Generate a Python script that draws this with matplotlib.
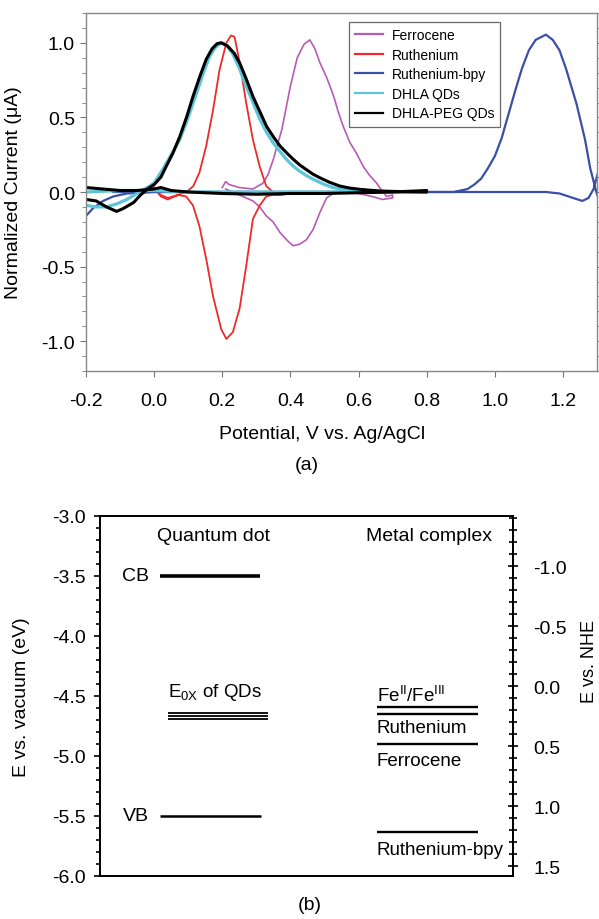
import matplotlib
matplotlib.use("Agg")
import matplotlib.pyplot as plt
from matplotlib.ticker import MultipleLocator, FormatStrFormatter

plt.rcParams['font.family'] = ['Liberation Sans', 'DejaVu Sans']
plt.rcParams['axes.unicode_minus'] = False
plt.rcParams['mathtext.fontset'] = 'custom'
plt.rcParams['mathtext.rm'] = 'Liberation Sans'

# ---- (a) voltammograms: potential (V vs Ag/AgCl), normalized current ----
ferrocene_v = [0.20, 0.21, 0.22, 0.25, 0.29, 0.32, 0.335, 0.35, 0.375, 0.40, 0.42, 0.44,
               0.457, 0.472, 0.486, 0.506, 0.521, 0.53, 0.54, 0.555, 0.575, 0.594, 0.614,
               0.633, 0.653, 0.668, 0.682, 0.70,
               0.70, 0.67, 0.64, 0.60, 0.56, 0.525, 0.506, 0.486, 0.467, 0.447, 0.427,
               0.408, 0.393, 0.369, 0.349, 0.329, 0.31, 0.29, 0.27, 0.24, 0.21]
ferrocene_i = [0.03, 0.07, 0.05, 0.03, 0.02, 0.06, 0.12, 0.22, 0.42, 0.71, 0.90, 0.99,
               1.02, 0.96, 0.87, 0.77, 0.68, 0.62, 0.54, 0.44, 0.33, 0.26, 0.17,
               0.11, 0.06, 0.01, -0.03, -0.02,
               -0.04, -0.05, -0.03, -0.01, 0.0, -0.01, -0.04, -0.14, -0.25, -0.32, -0.35,
               -0.36, -0.33, -0.27, -0.20, -0.16, -0.10, -0.06, -0.04, -0.01, 0.02]

ruthenium_v = [0.0, 0.02, 0.04, 0.06, 0.08, 0.10, 0.115, 0.133, 0.153, 0.173, 0.192, 0.212,
               0.226, 0.236, 0.251, 0.27, 0.29, 0.31, 0.329, 0.349, 0.369, 0.40,
               0.37, 0.345, 0.329, 0.31, 0.29, 0.27, 0.251, 0.231, 0.212, 0.197, 0.173,
               0.153, 0.133, 0.114, 0.094, 0.07, 0.04, 0.02, 0.0]
ruthenium_i = [0.03, -0.03, -0.05, -0.03, -0.01, 0.01, 0.04, 0.13, 0.31, 0.55, 0.82, 1.0,
               1.05, 1.04, 0.87, 0.60, 0.35, 0.17, 0.04, 0.0, -0.015, -0.01,
               -0.02, -0.02, -0.03, -0.09, -0.18, -0.50, -0.78, -0.94, -0.985, -0.92, -0.70,
               -0.45, -0.23, -0.09, -0.03, -0.02, -0.04, -0.02, 0.02]

ru_bpy_v = [-0.20, -0.18, -0.15, -0.12, -0.08, 0.0, 0.2, 0.4, 0.6, 0.8, 0.88, 0.92, 0.94,
            0.96, 0.98, 1.0, 1.02, 1.04, 1.06, 1.08, 1.10, 1.12, 1.15, 1.17, 1.19, 1.21,
            1.24, 1.265, 1.28, 1.298, 1.31,
            1.31, 1.303, 1.29, 1.275, 1.257, 1.23, 1.19, 1.15, 1.0, 0.8, 0.5, 0.2, 0.0, -0.12]
ru_bpy_i = [-0.16, -0.11, -0.06, -0.03, -0.01, 0.0, 0.0, 0.0, 0.0, 0.0, 0.0, 0.02, 0.05,
            0.09, 0.16, 0.24, 0.36, 0.52, 0.68, 0.83, 0.95, 1.02, 1.055, 1.02, 0.95, 0.82,
            0.59, 0.35, 0.16, 0.0, -0.08,
            0.25, 0.13, 0.02, -0.04, -0.06, -0.04, -0.01, 0.0, 0.0, 0.0, 0.0, 0.0, 0.0, 0.0]

dhla_v = [-0.20, -0.17, -0.14, -0.11, -0.08, -0.05, -0.02, 0.0, 0.025, 0.05, 0.075, 0.10,
          0.124, 0.145, 0.163, 0.18, 0.197, 0.21, 0.23, 0.25, 0.27, 0.29, 0.31, 0.33,
          0.349, 0.37, 0.388, 0.41, 0.427, 0.447, 0.467, 0.50, 0.525, 0.55, 0.584, 0.65,
          0.70, 0.75, 0.80,
          0.80, 0.60, 0.40, 0.20, 0.10, 0.0, -0.10, -0.20]
dhla_i = [-0.09, -0.10, -0.10, -0.08, -0.05, -0.01, 0.03, 0.06, 0.15, 0.25, 0.35, 0.50,
          0.66, 0.80, 0.91, 0.97, 1.0, 0.99, 0.93, 0.83, 0.71, 0.60, 0.49, 0.40,
          0.33, 0.27, 0.22, 0.17, 0.14, 0.11, 0.085, 0.05, 0.03, 0.02, 0.007, 0.0,
          0.0, 0.0, 0.0,
          0.0, 0.0, 0.0, 0.0, 0.0, 0.01, 0.01, 0.0]

peg_v = [-0.20, -0.17, -0.14, -0.11, -0.09, -0.06, -0.04, -0.02, 0.0, 0.02, 0.035, 0.055,
         0.075, 0.095, 0.114, 0.135, 0.153, 0.17, 0.185, 0.197, 0.215, 0.235, 0.251, 0.27,
         0.29, 0.31, 0.33, 0.35, 0.369, 0.39, 0.408, 0.428, 0.447, 0.466, 0.486, 0.515,
         0.545, 0.575, 0.604, 0.633, 0.663, 0.70, 0.75, 0.80,
         0.80, 0.70, 0.60, 0.50, 0.40, 0.30, 0.20, 0.10, 0.05, 0.02, 0.0, -0.05, -0.10,
         -0.15, -0.20]
peg_i = [-0.05, -0.06, -0.10, -0.13, -0.11, -0.07, -0.02, 0.02, 0.05, 0.10, 0.17, 0.26,
         0.37, 0.50, 0.64, 0.78, 0.89, 0.96, 0.995, 1.0, 0.98, 0.93, 0.865, 0.76,
         0.64, 0.54, 0.44, 0.37, 0.31, 0.26, 0.22, 0.18, 0.15, 0.12, 0.096, 0.065,
         0.04, 0.026, 0.018, 0.012, 0.007, 0.004, 0.002, 0.0,
         0.01, 0.0, -0.005, -0.01, -0.01, -0.015, -0.01, 0.0, 0.01, 0.03, 0.02, 0.01, 0.01,
         0.02, 0.03]

# ---- (b) energy levels (eV vs vacuum) ----
cb_level = -3.5
vb_level = -5.5
eox_levels = [-4.64, -4.665, -4.69]
metal_names = ['Fe$^{\\rm II}$/Fe$^{\\rm III}$', 'Ruthenium', 'Ferrocene', 'Ruthenium-bpy']
metal_levels = [-4.59, -4.65, -4.90, -5.63]
nhe_offset = 4.42

fig = plt.figure(figsize=(5.99, 9.2), dpi=100)

# ================= panel (a) =================
ax = fig.add_axes([86/599, 1-372/920, 511/599, 358/920])
ax.plot(ferrocene_v, ferrocene_i, color='#b75cb6', lw=1.2, label='Ferrocene')
ax.plot(ruthenium_v, ruthenium_i, color='#ee2a2a', lw=1.3, label='Ruthenium')
ax.plot(ru_bpy_v, ru_bpy_i, color='#3a50a8', lw=1.6, label='Ruthenium-bpy')
ax.plot(dhla_v, dhla_i, color='#5cc6d8', lw=2.3, label='DHLA QDs')
ax.plot(peg_v, peg_i, color='black', lw=2.2, label='DHLA-PEG QDs')

ax.set_xlim(-0.2, 1.3)
ax.set_ylim(-1.2, 1.2)
ax.xaxis.set_major_locator(MultipleLocator(0.2))
ax.xaxis.set_major_formatter(FormatStrFormatter('%.1f'))
ax.yaxis.set_major_locator(MultipleLocator(0.5))
ax.yaxis.set_minor_locator(MultipleLocator(0.1))
ax.yaxis.set_major_formatter(FormatStrFormatter('%.1f'))
ax.tick_params(axis='both', which='both', direction='out', colors='#777777',
               labelcolor='black', labelsize=14)
ax.tick_params(axis='x', length=4, pad=11)
ax.tick_params(axis='y', which='major', length=4, pad=4)
ax.tick_params(axis='y', which='minor', length=3)
ax.tick_params(axis='y', which='both', right=True)
for s in ax.spines.values():
    s.set_color('#888888')
    s.set_linewidth(1.0)
ax.set_xlabel('Potential, V vs. Ag/AgCl', fontsize=14)
ax.xaxis.set_label_coords(0.462, -0.152)
ax.set_ylabel('Normalized Current (\u03bcA)', fontsize=14)
ax.yaxis.set_label_coords(-0.125, 0.5)

leg = ax.legend(loc='upper left', bbox_to_anchor=(0.515, 0.975), fontsize=10,
                frameon=True, fancybox=False, handlelength=2.0, handletextpad=0.6,
                labelspacing=0.4, borderpad=0.45, borderaxespad=0)
leg.get_frame().set_edgecolor('#444444')
leg.get_frame().set_linewidth(0.9)
for line in leg.get_lines():
    line.set_linewidth(1.6)

fig.text(307/599, 1-466/920, '(a)', ha='center', va='center', fontsize=14)

# ================= panel (b) =================
bx = fig.add_axes([100/599, 1-877/920, 413/599, 360/920])
bx.set_xlim(0, 1)
bx.set_ylim(-6.0, -3.0)

bx.plot([0.145, 0.387], [cb_level, cb_level], color='black', lw=2.6, solid_capstyle='butt')
bx.plot([0.145, 0.39], [vb_level, vb_level], color='black', lw=1.8, solid_capstyle='butt')
for lev in eox_levels:
    bx.plot([0.165, 0.407], [lev, lev], color='black', lw=1.3, solid_capstyle='butt')
for lev in metal_levels:
    bx.plot([0.67, 0.915], [lev, lev], color='black', lw=1.7, solid_capstyle='butt')

bx.text(0.274, -3.165, 'Quantum dot', ha='center', va='center', fontsize=14)
bx.text(0.797, -3.165, 'Metal complex', ha='center', va='center', fontsize=14)
bx.text(0.118, cb_level, 'CB', ha='right', va='center', fontsize=14)
bx.text(0.118, vb_level, 'VB', ha='right', va='center', fontsize=14)
bx.text(0.165, -4.46, 'E$_{\\rm 0X}$ of QDs', ha='left', va='center', fontsize=13.5)
metal_text_y = [-4.49, -4.76, -5.04, -5.78]
for name, ty in zip(metal_names, metal_text_y):
    bx.text(0.67, ty, name, ha='left', va='center', fontsize=13.5)

bx.yaxis.set_major_locator(MultipleLocator(0.5))
bx.yaxis.set_minor_locator(MultipleLocator(0.1))
bx.yaxis.set_major_formatter(FormatStrFormatter('%.1f'))
bx.set_xticks([])
bx.tick_params(axis='y', which='both', direction='out', labelsize=14, width=1.2)
bx.tick_params(axis='y', which='major', length=4, pad=6)
bx.tick_params(axis='y', which='minor', length=3)
for s in bx.spines.values():
    s.set_linewidth(1.3)
bx.set_ylabel('E vs. vacuum (eV)', fontsize=14)
bx.yaxis.set_label_coords(-0.17, 0.5)

rx = bx.twinx()
rx.set_ylim(-(-6.0) - nhe_offset, -(-3.0) - nhe_offset)
rx.yaxis.set_major_locator(MultipleLocator(0.5))
rx.yaxis.set_minor_locator(MultipleLocator(0.1))
rx.yaxis.set_major_formatter(FormatStrFormatter('%.1f'))
rx.tick_params(axis='y', which='both', direction='inout', labelsize=14, width=1.2)
rx.tick_params(axis='y', which='major', length=7, pad=11)
rx.tick_params(axis='y', which='minor', length=6)
for s in rx.spines.values():
    s.set_linewidth(1.3)

fig.text(590/599, 1-662/920, 'E vs. NHE', rotation=90, ha='center', va='center',
         fontsize=13)
fig.text(310/599, 1-906/920, '(b)', ha='center', va='center', fontsize=14)

fig.savefig('out.png', dpi=100)
